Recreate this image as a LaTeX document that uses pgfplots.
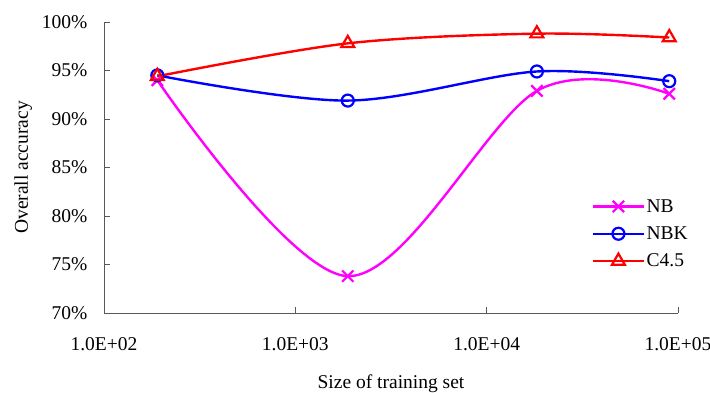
\documentclass[border=0pt]{standalone}
\usepackage{pgfplots}
\pgfplotsset{compat=1.18}
\usepackage{fontspec}
\setmainfont{Liberation Serif}
\definecolor{mag}{RGB}{255,0,255}
\newcommand{\tfont}{\fontsize{19.5}{21}\selectfont}
\begin{document}
\begin{tikzpicture}[x=1pt,y=1pt]
\useasboundingbox (0,0) rectangle (710,392);
\begin{axis}[
  at={(104pt,79pt)}, anchor=south west,
  scale only axis, width=574pt, height=291pt,
  xmode=log, xmin=100, xmax=100000,
  ymin=70, ymax=100,
  axis x line*=bottom, axis y line*=left,
  axis line style={draw=black!65, line width=1pt},
  xtick={100,1000,10000,100000},
  xticklabels={1.0E+02,1.0E+03,1.0E+04,1.0E+05},
  xminorticks=false,
  ytick={70,75,80,85,90,95,100},
  yticklabels={70\%,75\%,80\%,85\%,90\%,95\%,100\%},
  tick style={draw=black!65, line width=1pt},
  major tick length=6pt,
  tick align=inside,
  xticklabel style={font=\tfont, yshift=-21pt},
  yticklabel style={font=\tfont, xshift=-13pt},
  xlabel={Size of training set}, ylabel={Overall accuracy},
  label style={font=\tfont},
  xlabel style={yshift=-17pt},
  ylabel style={yshift=3pt},
  legend style={draw=none, fill=none, font=\tfont, at={(0.845,0.405)}, anchor=north west, row sep=9pt},
  legend cell align=left,
  legend image code/.code={\draw[mark repeat=2,mark phase=2] plot coordinates {(0pt,0pt)(25pt,0pt)(50pt,0pt)};},
  every axis plot/.append style={line width=2.4pt, smooth, tension=0.55},
]
\addplot[color=mag, mark=x, mark size=8pt, mark options={line width=2.2pt}]
  coordinates {(190,94.0)(1880,73.8)(18300,92.9)(90000,92.6)};
\addlegendentry{NB}
\addplot[color=blue, mark=o, mark size=6pt, mark options={fill=white, line width=2.2pt}]
  coordinates {(190,94.5)(1880,91.9)(18300,94.9)(90000,93.9)};
\addlegendentry{NBK}
\addplot[color=red, mark=triangle, mark size=7.5pt, mark options={fill=white, line width=2.2pt}]
  coordinates {(190,94.4)(1880,97.8)(18300,98.8)(90000,98.4)};
\addlegendentry{C4.5}
\end{axis}
\end{tikzpicture}
\end{document}
